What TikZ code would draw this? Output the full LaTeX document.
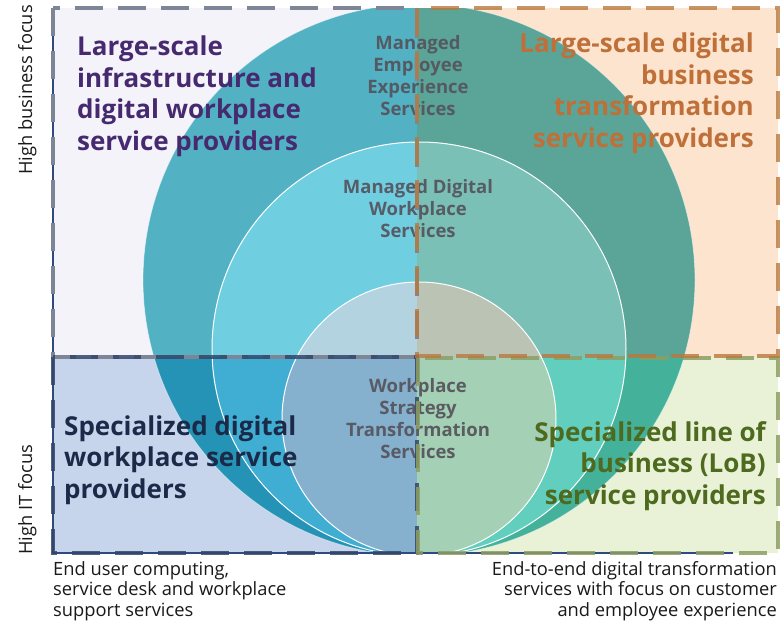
\documentclass[tikz,border=0pt]{standalone}
\usepackage{fontspec}
\setmainfont{Open Sans}
\usetikzlibrary{positioning}

% quadrant backgrounds and the rings as they show in each quadrant
\definecolor{ulbg}{HTML}{F4F3FA}
\definecolor{ulbig}{HTML}{52B1C3}
\definecolor{ulmed}{HTML}{6FCFE1}
\definecolor{ulsmall}{HTML}{B2D3DF}
\definecolor{urbg}{HTML}{FDE4CF}
\definecolor{urbig}{HTML}{5AA598}
\definecolor{urmed}{HTML}{7AC0B7}
\definecolor{ursmall}{HTML}{BBC4B4}
\definecolor{llbg}{HTML}{C6D5EB}
\definecolor{llbig}{HTML}{2593B5}
\definecolor{llmed}{HTML}{40AED3}
\definecolor{llsmall}{HTML}{85B0CE}
\definecolor{lrbg}{HTML}{E9F2D6}
\definecolor{lrbig}{HTML}{44B19A}
\definecolor{lrmed}{HTML}{62CFBE}
\definecolor{lrsmall}{HTML}{A4D1B5}
% borders and texts
\definecolor{ulline}{HTML}{7D8597}
\definecolor{urline}{HTML}{B8793F}
\definecolor{llline}{HTML}{34466A}
\definecolor{lrline}{HTML}{8D9E63}
\definecolor{axisblue}{HTML}{2F4A80}
\definecolor{ultext}{HTML}{46296F}
\definecolor{urtext}{HTML}{BF7038}
\definecolor{lltext}{HTML}{1B2A48}
\definecolor{lrtext}{HTML}{4D6A1E}
\definecolor{labelgray}{HTML}{55535C}

\begin{document}
\begin{tikzpicture}[x=1pt, y=-1pt,
  quadtitle/.style={font=\bfseries\fontsize{26}{31.5}\selectfont, inner sep=0pt},
  circlabel/.style={font=\bfseries\fontsize{18.5}{22}\selectfont, text=labelgray,
    text opacity=.92, align=center, inner sep=0pt},
  sidelabel/.style={font=\fontsize{18.3}{20.5}\selectfont, inner sep=0pt, text=black!90},
  quadborder/.style={line width=3.2pt, dash pattern=on 28pt off 15pt}]
  \useasboundingbox (0,0) rectangle (780,621);

  % quadrants, each with its part of the three rings
  \foreach \q/\xa/\ya/\xb/\yb in {ul/53/8/417/357, ur/417/8/778/357,
                                  ll/53/357/417/553, lr/417/357/778/553}{
    \begin{scope}
      \clip (\xa,\ya) rectangle (\xb,\yb);
      \fill[fill=\q bg] (\xa,\ya) rectangle (\xb,\yb);
      \fill[fill=\q big] (419,280) circle[radius=276pt];
      \fill[fill=\q med] (419,349) circle[radius=207pt];
      \fill[fill=\q small] (419,419) circle[radius=137pt];
    \end{scope}
  }
  \begin{scope}
    \clip (53,8) rectangle (778,553);
    \draw[white, opacity=.5, line width=.8pt] (419,280) circle[radius=276pt];
    \draw[white, line width=1pt] (419,349) circle[radius=207pt];
    \draw[white, line width=1pt] (419,419) circle[radius=137pt];
  \end{scope}

  % ring labels (anchored at the last line)
  \node[circlabel, anchor=base] (mees) at (418,115) {Managed\\Employee\\Experience\\Services};
  \node[circlabel, anchor=base] (mdws) at (418,237) {Managed Digital\\Workplace\\Services};
  \node[circlabel, anchor=base] (wsts) at (418,458) {Workplace\\Strategy\\Transformation\\Services};

  % axes
  \coordinate (origin) at (53,553);
  \coordinate (ytop) at (53,35);
  \coordinate (xend) at (733,553);
  \draw[axisblue, line width=1.5pt] (ytop) -- (origin) -- (xend);

  % dashed quadrant borders
  \draw[quadborder, ulline] (53,8) rectangle (417,357);
  \draw[quadborder, llline, opacity=.85] (53,357) rectangle (417,553);
  \draw[quadborder, lrline, opacity=.85] (418,358) rectangle (778,553);
  \draw[quadborder, urline, opacity=.8] (417,8) rectangle (778,356);

  % quadrant titles
  \node[quadtitle, text=ultext, align=left, anchor=base west] (ultitle) at (77,150)
    {Large-scale\\infrastructure and\\digital workplace\\service providers};
  \node[quadtitle, text=urtext, align=right, anchor=base east] (urtitle) at (754,147)
    {Large-scale digital\\business\\transformation\\service providers};
  \node[quadtitle, text=lltext, align=left, anchor=base west] (lltitle) at (64,498)
    {Specialized digital\\workplace service\\providers};
  \node[quadtitle, text=lrtext, align=right, anchor=base east] (lrtitle) at (766,504)
    {Specialized line of\\business (LoB)\\service providers};

  % axis labels
  \node[sidelabel, rotate=90, anchor=base west] (bizfocus) at (32,175) {High business focus};
  \node[sidelabel, rotate=90, anchor=base west] (itfocus) at (32,555) {High IT focus};
  \node[sidelabel, align=left, anchor=base west] (leftend) at (53,616)
    {End user computing,\\service desk and workplace\\support services};
  \node[sidelabel, align=right, anchor=base east] (rightend) at (777,616)
    {End-to-end digital transformation\\services with focus on customer\\and employee experience};
\end{tikzpicture}
\end{document}
